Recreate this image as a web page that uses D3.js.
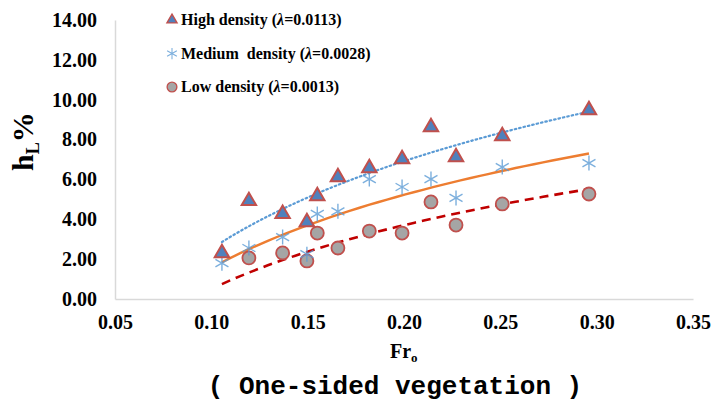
<!DOCTYPE html>
<html>
<head>
<meta charset="utf-8">
<script src="https://cdn.jsdelivr.net/npm/d3@7"></script>
<style>
  body { margin: 0; background: #fff; }
  svg { display: block; }
</style>
</head>
<body>
<svg id="chart" width="711" height="405"></svg>
<script>
// Fr_o values for each series
var highX = [0.1055, 0.1195, 0.137, 0.1496, 0.155, 0.1657, 0.182, 0.199, 0.214, 0.227, 0.251, 0.296];
var highY = [2.31, 4.92, 4.27, 3.86, 5.17, 6.12, 6.57, 7.02, 8.63, 7.12, 8.18, 9.48];

var medX = [0.1055, 0.1195, 0.137, 0.1496, 0.155, 0.1657, 0.182, 0.199, 0.214, 0.227, 0.251, 0.296];
var medY = [1.80, 2.56, 3.11, 2.25, 4.27, 4.40, 6.02, 5.62, 6.02, 5.07, 6.62, 6.82];

var lowX = [0.1195, 0.137, 0.1496, 0.155, 0.1657, 0.182, 0.199, 0.214, 0.227, 0.251, 0.296];
var lowY = [2.06, 2.31, 1.91, 3.31, 2.56, 3.41, 3.31, 4.87, 3.71, 4.77, 5.27];

// log trendlines y = a*ln(x) + b
var trendA = [6.34, 5.29, 4.62];
var trendB = [17.12, 13.74, 11.14];
var trendRange = [0.1055, 0.296];

var xTicks = [0.05, 0.10, 0.15, 0.20, 0.25, 0.30, 0.35];
var yTicks = [0, 2, 4, 6, 8, 10, 12, 14];

var serif = "'Liberation Serif', 'Times New Roman', serif";

var svg = d3.select("svg"),
    margin = {top: 20, right: 18, bottom: 106, left: 115},
    width = +svg.attr("width") - margin.left - margin.right,
    height = +svg.attr("height") - margin.top - margin.bottom;

var x = d3.scaleLinear().domain([0.05, 0.35]).range([0, width]);
var y = d3.scaleLinear().domain([0, 14]).range([height, 0]);

var g = svg.append("g")
    .attr("transform", "translate(" + margin.left + "," + margin.top + ")");

// axes
var xAxis = d3.axisBottom(x).tickValues(xTicks).tickSize(0).tickPadding(16).tickFormat(d3.format(".2f"));
var yAxis = d3.axisLeft(y).tickValues(yTicks).tickSize(0).tickPadding(18).tickFormat(d3.format(".2f"));

g.append("g")
    .attr("class", "axis axis--x")
    .attr("transform", "translate(0," + height + ")")
    .call(xAxis)
    .call(function(s) { s.select(".domain").attr("stroke", "#d9d9d9").attr("stroke-width", 1.5); })
    .selectAll("text")
    .style("font-family", serif)
    .style("font-weight", "bold")
    .style("font-size", "20px")
    .attr("fill", "#000");

g.append("g")
    .attr("class", "axis axis--y")
    .call(yAxis)
    .call(function(s) { s.select(".domain").attr("stroke", "#d9d9d9").attr("stroke-width", 1.5); })
    .selectAll("text")
    .style("font-family", serif)
    .style("font-weight", "bold")
    .style("font-size", "20px")
    .attr("fill", "#000");

// trendlines
var trendStyles = [
    {color: "#5b9bd5", width: 2.2, dash: "1.5,3", cap: "round"},
    {color: "#ed7d31", width: 2.4, dash: null, cap: "butt"},
    {color: "#c00000", width: 2.6, dash: "9,6", cap: "butt"}
];

var line = d3.line()
    .x(function(d) { return x(d[0]); })
    .y(function(d) { return y(d[1]); });

trendA.forEach(function(a, i) {
    var pts = d3.range(0, 41).map(function(k) {
        var xv = trendRange[0] + (trendRange[1] - trendRange[0]) * k / 40;
        return [xv, a * Math.log(xv) + trendB[i]];
    });
    g.append("path")
        .datum(pts)
        .attr("fill", "none")
        .attr("stroke", trendStyles[i].color)
        .attr("stroke-width", trendStyles[i].width)
        .attr("stroke-dasharray", trendStyles[i].dash)
        .attr("stroke-linecap", trendStyles[i].cap)
        .attr("d", line);
});

// markers
var triangle = d3.symbol().type(d3.symbolTriangle).size(90);
var asterisk = "M0,-7.5L0,7.5M-6.5,-3.75L6.5,3.75M-6.5,3.75L6.5,-3.75";

function drawTri(sel) {
    sel.append("path")
        .attr("d", triangle)
        .attr("fill", "#4f81bd")
        .attr("stroke", "#c0504d")
        .attr("stroke-width", 2);
}
function drawStar(sel) {
    sel.append("path")
        .attr("d", asterisk)
        .attr("fill", "none")
        .attr("stroke", "#5b9bd5")
        .attr("stroke-opacity", 0.8)
        .attr("stroke-width", 1.4);
}
function drawCirc(sel) {
    sel.append("circle")
        .attr("r", 6.5)
        .attr("fill", "#a5a5a5")
        .attr("stroke", "#c0504d")
        .attr("stroke-width", 1.8);
}

g.selectAll(".low")
    .data(d3.zip(lowX, lowY))
    .enter().append("g")
    .attr("class", "low")
    .attr("transform", function(d) { return "translate(" + x(d[0]) + "," + y(d[1]) + ")"; })
    .call(drawCirc);

g.selectAll(".med")
    .data(d3.zip(medX, medY))
    .enter().append("g")
    .attr("class", "med")
    .attr("transform", function(d) { return "translate(" + x(d[0]) + "," + y(d[1]) + ")"; })
    .call(drawStar);

g.selectAll(".high")
    .data(d3.zip(highX, highY))
    .enter().append("g")
    .attr("class", "high")
    .attr("transform", function(d) { return "translate(" + x(d[0]) + "," + y(d[1]) + ")"; })
    .call(drawTri);

// legend
var legend = [
    {pre: "High density (", val: "=0.0113)", draw: drawTri, scale: 0.7},
    {pre: "Medium\u00a0 density (", val: "=0.0028)", draw: drawStar, scale: 0.75},
    {pre: "Low density (", val: "=0.0013)", draw: drawCirc, scale: 0.75}
];
legend.forEach(function(d, i) {
    var ly = 20 + i * 33.5;
    svg.append("g")
        .attr("transform", "translate(172," + ly + ") scale(" + d.scale + ")")
        .call(d.draw);
    var t = svg.append("text")
        .attr("x", 181)
        .attr("y", ly + 5)
        .style("font-family", serif)
        .style("font-weight", "bold")
        .style("font-size", "16px");
    t.append("tspan").text(d.pre);
    t.append("tspan").style("font-style", "italic").text("\u03bb");
    t.append("tspan").text(d.val);
});

// axis titles
var yt = svg.append("text")
    .attr("transform", "translate(33,171) rotate(-90)")
    .style("font-family", serif)
    .style("font-weight", "bold")
    .style("font-size", "30px");
yt.append("tspan").text("h");
yt.append("tspan").attr("dy", 6).style("font-size", "18px").text("L");
yt.append("tspan").attr("dy", -6).text("%");

var xt = svg.append("text")
    .attr("x", 390)
    .attr("y", 358)
    .style("font-family", serif)
    .style("font-weight", "bold")
    .style("font-size", "20px");
xt.append("tspan").text("Fr");
xt.append("tspan").attr("dy", 4).style("font-size", "13px").text("o");

svg.append("text")
    .attr("x", 395)
    .attr("y", 394)
    .attr("text-anchor", "middle")
    .style("font-family", "'Liberation Mono', 'Courier New', monospace")
    .style("font-weight", "bold")
    .style("font-size", "26px")
    .text("( One-sided vegetation )");
</script>
</body>
</html>
